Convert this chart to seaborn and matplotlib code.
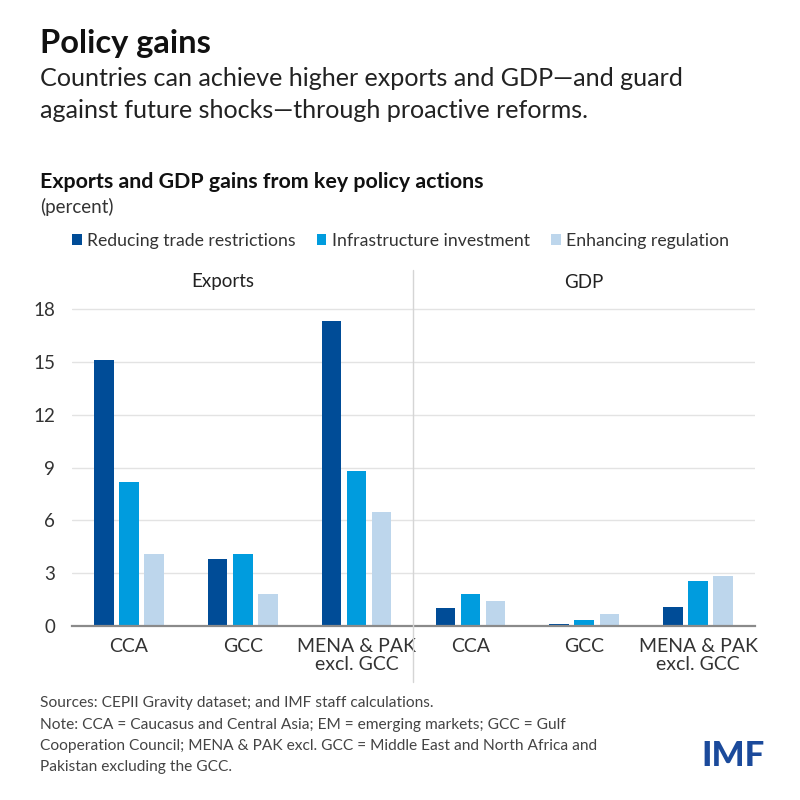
import matplotlib
matplotlib.use("Agg")
import matplotlib.pyplot as plt
import seaborn as sns
import pandas as pd
from matplotlib.lines import Line2D

# ---- data ----
panels = ["Exports", "Exports", "Exports", "GDP", "GDP", "GDP"]
regions = ["CCA", "GCC", "MENA & PAK\nexcl. GCC", "CCA", "GCC", "MENA & PAK\nexcl. GCC"]
policies = ["Reducing trade restrictions", "Infrastructure investment", "Enhancing regulation"]
reducing = [15.1, 3.8, 17.3, 1.0, 0.1, 1.1]
infrastructure = [8.2, 4.1, 8.8, 1.8, 0.35, 2.55]
regulation = [4.1, 1.8, 6.5, 1.4, 0.7, 2.85]
yticks = [0, 3, 6, 9, 12, 15, 18]
colors = ["#004C97", "#009CDE", "#BDD6EC"]

keys = [f"{p} {r}" for p, r in zip(panels, regions)]
rows = []
for series, vals in zip(policies, [reducing, infrastructure, regulation]):
    for k, v in zip(keys, vals):
        rows.append({"key": k, "policy": series, "value": v})
df = pd.DataFrame(rows)

sns.set_theme(style="white")
plt.rcParams["font.family"] = ["Lato", "DejaVu Sans"]

fig = plt.figure(figsize=(8, 8), dpi=100)
W, H = 800, 800
ax = fig.add_axes([72 / W, 1 - 626 / H, (755 - 72) / W, (626 - 265) / H])

sns.barplot(data=df, x="key", y="value", hue="policy", order=keys,
            hue_order=policies, palette=colors, saturation=1, gap=0.22,
            width=0.66, linewidth=0, ax=ax, legend=True)

ax.set_xlim(-0.5, 5.5)
ax.set_ylim(0, 20.5)
ax.set_yticks(yticks)
ax.set_yticklabels([str(t) for t in yticks], fontsize=13.5, color="#333333")
ax.set_xticks(range(len(keys)))
ax.set_xticklabels(regions, fontsize=14, color="#333333", linespacing=1.05)
ax.tick_params(axis="y", length=0, pad=12)
ax.tick_params(axis="x", length=0, pad=9)
ax.set_xlabel("")
ax.set_ylabel("")
for t in yticks[1:]:
    ax.axhline(t, color="#e3e3e3", lw=1, zorder=0)
for s in ["top", "right", "left"]:
    ax.spines[s].set_visible(False)
ax.spines["bottom"].set_color("#8a8a8a")
ax.spines["bottom"].set_linewidth(1.6)
ax.set_axisbelow(True)

# panel headers
fig.text(223 / W, 1 - 282 / H, "Exports", ha="center", va="center",
         fontsize=13.5, color="#222222")
fig.text(584 / W, 1 - 282 / H, "GDP", ha="center", va="center",
         fontsize=13.5, color="#222222")

# divider
fig.add_artist(Line2D([413 / W, 413 / W], [1 - 270 / H, 1 - 682 / H],
                      color="#d5d5d5", lw=1))

# legend
sns.move_legend(ax, "center left", bbox_to_anchor=(72 / W, 1 - 241 / H),
                bbox_transform=fig.transFigure, ncol=3, frameon=False,
                title=None, fontsize=12.7, handlelength=0.55, handleheight=0.55,
                handletextpad=0.3, columnspacing=1.2, borderaxespad=0,
                borderpad=0)
for t in ax.get_legend().get_texts():
    t.set_color("#333333")

# titles
fig.text(40 / W, 1 - 44 / H, "Policy gains", fontsize=23.5, fontweight="bold",
         color="#111111", va="center", ha="left")
fig.text(40 / W, 1 - 79 / H, "Countries can achieve higher exports and GDP\u2014and guard",
         fontsize=18.1, color="#222222", va="center", ha="left")
fig.text(40 / W, 1 - 110 / H, "against future shocks\u2014through proactive reforms.",
         fontsize=18.1, color="#222222", va="center", ha="left")
fig.text(40 / W, 1 - 182 / H, "Exports and GDP gains from key policy actions",
         fontsize=15.4, fontweight="bold", color="#111111", va="center", ha="left")
fig.text(40 / W, 1 - 207 / H, "(percent)", fontsize=13.5, color="#333333",
         va="center", ha="left")

# footer
notes = ["Sources: CEPII Gravity dataset; and IMF staff calculations.",
         "Note: CCA = Caucasus and Central Asia; EM = emerging markets; GCC = Gulf",
         "Cooperation Council; MENA & PAK excl. GCC = Middle East and North Africa and",
         "Pakistan excluding the GCC."]
for i, line in enumerate(notes):
    fig.text(40 / W, 1 - (703 + i * 21.5) / H, line, fontsize=11.2,
             color="#444444", va="center", ha="left")

fig.text(765 / W, 1 - 756 / H, "IMF", fontsize=25, fontweight="black",
         color="#1B4A9B", va="center", ha="right")

fig.savefig("out.png", dpi=100, facecolor="white")
